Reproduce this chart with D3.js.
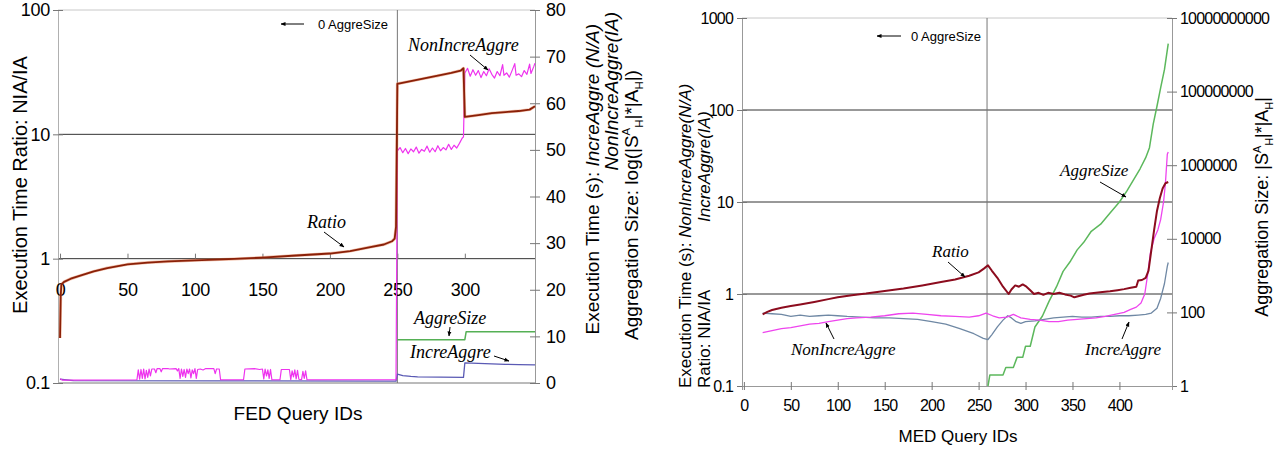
<!DOCTYPE html>
<html>
<head>
<meta charset="utf-8">
<script src="https://cdn.jsdelivr.net/npm/d3@7"></script>
<style>
body{margin:0;background:#fff;}
text{font-family:"Liberation Sans",Arial,sans-serif;fill:#000;}
.lbl{font-family:"Liberation Serif","Times New Roman",serif;font-style:italic;}
</style>
</head>
<body>
<svg id="fig" width="1278" height="450"></svg>
<script>
// ---- FED chart (left) ----
const fedXTicks=[0,50,100,150,200,250,300];
const fedLeftTicks=[0.1,1,10,100];
const fedRightTicks=[0,10,20,30,40,50,60,70,80];
// ratio NIA/IA, left log axis
const fedRatio=[[0,0.23],[0.5,0.5],[1,0.62],[3,0.65],[8,0.69],[15,0.73],[25,0.79],[35,0.84],[50,0.9],[65,0.93],[80,0.95],[100,0.97],[125,0.99],[150,1.02],[175,1.06],[200,1.1],[215,1.15],[230,1.24],[240,1.3],[246,1.38],[248,1.45],[249,1.8],
  [250,25.5],[260,26.8],[270,28.2],[280,29.6],[290,31.2],[297,32.6],[299,34],[300,13.8],[310,14.3],[320,14.8],[330,15.1],[340,15.4],[348,15.8],[352,16.8]];
// execution times (s), right linear axis
const fedNonIncre=[[0,0.9],[2,0.6],[57,0.7],
  [58,2.8],[59,0.8],[60,2.9],[61,1.0],[62,3.0],[63,0.9],[64,2.7],[65,1.2],[66,3.0],[67,1.5],[68,3.0],[70,3.0],[71,2.2],[72,3.1],[74,3.1],[75,2.4],[76,3.1],[80,3.1],[81,3.0],[86,3.1],[87,2.6],[88,3.1],[89,1.0],[90,3.0],[91,1.4],[92,2.9],[93,1.2],[94,3.0],[95,2.0],[96,3.0],[97,1.1],[98,2.8],[99,2.0],[100,3.1],[101,1.0],[102,2.9],[104,3.0],[106,2.8],[108,3.1],[114,3.1],[115,2.0],[116,3.0],[118,3.0],[119,0.7],
  [136,0.7],[137,3.0],[144,3.1],[148,2.9],[150,3.0],[151,0.9],[152,3.0],[153,1.5],[154,2.8],[155,1.0],[156,2.9],[157,0.7],[163,0.7],[164,2.9],[170,2.9],[171,0.7],[172,2.6],[173,1.3],[174,2.8],[175,0.9],[176,2.7],[177,0.8],[179,0.7],[180,2.5],[181,1.0],[182,2.6],[183,0.7],[249,0.7],
  [250,49.8],[252,50.5],[254,49.4],[256,50.3],[258,49.2],[260,50.2],[262,49.6],[264,50.6],[266,49.3],[268,50.1],[270,49.7],[272,50.8],[274,49.5],[276,50.4],[278,49.6],[280,50.9],[282,49.8],[284,50.5],[286,50.0],[288,51.2],[290,50.1],[292,51.0],[294,50.4],[296,51.4],[298,52.5],[299,52.8],
  [300,66.5],[302,67.5],[304,65.8],[306,67.2],[308,66.0],[310,67.0],[312,65.5],[314,66.8],[316,65.9],[318,67.4],[320,66.2],[322,65.4],[324,66.8],[326,65.9],[328,68.3],[329,66],[331,66.5],[333,65.6],[335,67],[337,68.5],[338,66],[340,66.3],[342,65.7],[344,67],[346,66.2],[348,68.4],[349,66.4],[351,67.8],[352,68.6]];
const fedIncre=[[0,0.8],[10,0.5],[120,0.45],[249,0.4],[250,1.9],[254,1.6],[260,1.4],[265,1.3],[299,1.2],[300,4.3],[310,4.2],[320,4.1],[330,4.0],[340,3.95],[352,3.9]];
const fedAggreSize=[[250,9.3],[300,9.3],[301,11],[352,11]];

// ---- MED chart (right) ----
const medXTicks=[0,50,100,150,200,250,300,350,400];
const medLeftTicks=[0.1,1,10,100,1000];
const medRightTicks=[1,100,1e4,1e6,1e8,1e10];
const medRatio=[[20,0.6],[25,0.64],[30,0.67],[40,0.71],[50,0.74],[60,0.77],[75,0.82],[90,0.88],[100,0.92],[115,0.97],[130,1.01],[150,1.08],[170,1.15],[190,1.24],[210,1.35],[225,1.44],[240,1.58],[250,1.72],[256,1.9],[260,2.05],[264,1.8],[270,1.5],[276,1.2],[282,1.0],[285,1.12],[289,1.24],[293,1.2],[297,1.27],[301,1.2],[305,1.1],[309,1.0],[314,1.03],[319,0.98],[324,1.03],[330,1.0],[336,1.03],[342,0.99],[348,0.96],[352,0.92],[357,0.95],[362,0.98],[368,1.01],[375,1.03],[382,1.05],[390,1.07],[398,1.1],[405,1.13],[412,1.17],[418,1.2],[420,1.4],[424,1.42],[428,1.5],[431,1.8],[434,3],[437,5],[440,8],[443,11],[446,14],[449,16],[452,16.5]];
const medNonIncre=[[20,0.38],[30,0.4],[40,0.42],[50,0.43],[60,0.45],[70,0.47],[80,0.48],[90,0.5],[100,0.52],[110,0.54],[120,0.55],[135,0.56],[150,0.58],[165,0.61],[180,0.62],[195,0.6],[210,0.58],[225,0.57],[240,0.56],[250,0.58],[258,0.62],[265,0.58],[272,0.55],[280,0.56],[287,0.6],[295,0.55],[305,0.53],[315,0.52],[325,0.5],[335,0.5],[345,0.52],[355,0.53],[365,0.54],[375,0.55],[385,0.57],[395,0.6],[405,0.63],[412,0.68],[418,0.72],[423,0.8],[427,1.0],[430,1.6],[433,2.8],[437,4],[441,5],[444,6.5],[447,10],[449,16],[451,33],[452,35]];
const medIncre=[[20,0.62],[30,0.61],[40,0.6],[50,0.57],[60,0.59],[70,0.57],[80,0.58],[90,0.59],[100,0.58],[110,0.57],[125,0.56],[140,0.55],[155,0.55],[170,0.54],[185,0.53],[200,0.5],[215,0.47],[230,0.42],[245,0.37],[255,0.33],[260,0.32],[264,0.36],[270,0.44],[276,0.52],[281,0.58],[285,0.55],[290,0.5],[295,0.48],[300,0.5],[310,0.51],[320,0.53],[330,0.55],[340,0.56],[350,0.57],[360,0.56],[370,0.56],[380,0.57],[390,0.57],[400,0.58],[410,0.58],[420,0.59],[428,0.6],[434,0.62],[440,0.7],[444,0.9],[448,1.3],[451,2.0],[452,2.2]];
const medAggreSize=[[260,1],[262,2],[276,2],[279,3.2],[287,3.2],[291,6],[297,6],[300,12],[305,12],[310,40],[318,80],[325,200],[333,500],[340,1300],[348,2500],[355,5000],[362,8000],[370,1.6e4],[380,2.5e4],[390,5e4],[400,1e5],[408,2e5],[415,4e5],[422,8e5],[428,1.6e6],[432,3e6],[436,1.3e7],[440,4e7],[444,1.3e8],[448,4e8],[452,2e9]];

const svg=d3.select("#fig");
svg.append("rect").attr("width",1278).attr("height",450).attr("fill","#fff");
svg.append("defs").append("marker").attr("id","arr")
  .attr("viewBox","0 0 10 10").attr("refX",9).attr("refY",5)
  .attr("markerWidth",5).attr("markerHeight",5).attr("orient","auto")
  .append("path").attr("d","M0,1L10,5L0,9z").attr("fill","#000");

function hline(x1,x2,y,c){svg.append("line").attr("x1",x1).attr("x2",x2).attr("y1",y).attr("y2",y).attr("stroke",c).attr("stroke-width",1);}
function vline(x,y1,y2,c){svg.append("line").attr("x1",x).attr("x2",x).attr("y1",y1).attr("y2",y2).attr("stroke",c).attr("stroke-width",1);}
function arrow(x1,y1,x2,y2){svg.append("line").attr("x1",x1).attr("y1",y1).attr("x2",x2).attr("y2",y2).attr("stroke","#000").attr("stroke-width",1).attr("marker-end","url(#arr)");}
function series(data,x,y,color,w,op){
  svg.append("path").datum(data).attr("fill","none").attr("stroke",color).attr("stroke-width",w)
    .attr("stroke-linejoin","round").attr("opacity",op||1)
    .attr("d",d3.line().x(d=>x(d[0])).y(d=>y(d[1])));
}
function label(x,y,size,t){svg.append("text").attr("class","lbl").attr("x",x).attr("y",y).attr("font-size",size).text(t);}
function vtext(x,y,anchor,size,parts){
  const t=svg.append("text").attr("transform",`translate(${x},${y}) rotate(-90)`)
    .attr("text-anchor",anchor).attr("font-size",size);
  let off=0, first=true;
  parts.forEach(p=>{
    const target=p.sup?-0.42*size:p.sub?0.28*size:0;
    const s=t.append("tspan").attr("dy",(first?0.35*size:0)+target-off).text(p.t);
    first=false; off=target;
    if(p.i) s.attr("font-style","italic");
    if(p.sup||p.sub) s.attr("font-size",size*0.6);
  });
}
function styleAxis(g,size,ls){
  g.attr("font-family",null).attr("font-size",size);
  g.selectAll("text").attr("letter-spacing",ls||0);
  g.select(".domain").attr("stroke","#999");
  g.selectAll(".tick line").attr("stroke","#777");
}

// ===== left chart =====
const fx=d3.scaleLinear().domain([-1.5,352]).range([58,535]);
const fyL=d3.scaleLog().domain([0.1,100]).range([383,10]);
const fyR=d3.scaleLinear().domain([0,80]).range([383,10]);

hline(58,535,fyL(100),"#c8c8c8");
hline(58,535,fyL(10),"#333");
hline(58,535,fyL(1),"#333");
hline(58,535,fyL(0.1),"#777");
vline(fx(250),fyL(100),fyL(0.1),"#777");

const fAxL=svg.append("g").attr("transform","translate(58,0)")
  .call(d3.axisLeft(fyL).tickValues(fedLeftTicks).tickFormat(d=>String(d)).tickSizeOuter(0).tickSize(5).tickPadding(3));
styleAxis(fAxL,18,-0.3);
fAxL.select(".domain").attr("stroke","#b0b0b0");
fAxL.selectAll(".tick line").attr("x1",5);

const fAxR=svg.append("g").attr("transform","translate(535,0)")
  .call(d3.axisRight(fyR).tickValues(fedRightTicks).tickSizeOuter(0).tickSize(5).tickPadding(6));
styleAxis(fAxR,18,-0.3);
fAxR.selectAll(".tick line").attr("x1",-5);

const fAxX=svg.append("g").attr("transform",`translate(0,${fyL(1)})`)
  .call(d3.axisBottom(fx).tickValues(fedXTicks).tickSizeOuter(0).tickSize(-5).tickPadding(25));
styleAxis(fAxX,18,-0.3);
fAxX.select(".domain").remove();

series(fedIncre,fx,fyR,"#5a5ab4",1.3);
series(fedAggreSize,fx,fyR,"#55b055",1.5);
series(fedNonIncre,fx,fyR,"#ee33ee",1.2);
series(fedRatio,fx,fyL,"#e07040",3,0.45);
series(fedRatio,fx,fyL,"#8a2008",1.8);

svg.append("text").attr("x",298).attr("y",420).attr("text-anchor","middle").attr("font-size",19).text("FED Query IDs");
vtext(20,185,"middle",20,[{t:"Execution Time Ratio: NIA/IA"}]);
vtext(592,24,"end",19,[{t:"Execution Time (s): "},{t:"IncreAggre (N/A)",i:true}]);
vtext(611,12,"end",19,[{t:"NonIncreAggre(IA)",i:true}]);
vtext(631,205,"middle",19,[{t:"Aggregation Size: log(|S"},{t:"A",sup:true},{t:"H",sub:true},{t:"|*|A"},{t:"H",sub:true},{t:"|)"}]);

arrow(304,24,281,24);
svg.append("text").attr("x",318).attr("y",29).attr("font-size",13).text("0 AggreSize");
label(408,51,18,"NonIncreAggre"); arrow(470,55,488,70);
label(307,228,18,"Ratio"); arrow(324,232,344,247);
label(414,324,18,"AggreSize"); arrow(450,327,449,336);
label(410,358,18,"IncreAggre"); arrow(494,356,509,361);

// ===== right chart =====
const mx=d3.scaleLinear().domain([-2,456]).range([742,1172]);
const myL=d3.scaleLog().domain([0.1,1000]).range([386,18]);
const myR=d3.scaleLog().domain([1,1e10]).range([386,18]);

hline(742,1172,myL(1000),"#c8c8c8");
[100,10,1].forEach(v=>hline(742,1172,myL(v),"#333"));
vline(mx(259),myL(1000),myL(0.1),"#777");

const mAxL=svg.append("g").attr("transform","translate(742,0)")
  .call(d3.axisLeft(myL).tickValues(medLeftTicks).tickFormat(d=>String(d)).tickSizeOuter(0).tickSize(5).tickPadding(4));
styleAxis(mAxL,16,-0.8);
mAxL.selectAll(".tick line").attr("x1",5);

const mAxR=svg.append("g").attr("transform","translate(1172,0)")
  .call(d3.axisRight(myR).tickValues(medRightTicks).tickFormat(d=>String(d)).tickSizeOuter(0).tickSize(5).tickPadding(3));
styleAxis(mAxR,16,-0.8);
mAxR.selectAll(".tick line").attr("x1",-5);

const mAxX=svg.append("g").attr("transform","translate(0,386)")
  .call(d3.axisBottom(mx).tickValues(medXTicks).tickSizeOuter(0).tickSize(4).tickPadding(10));
styleAxis(mAxX,16,-0.8);
mAxX.selectAll(".tick line").attr("y1",-4);

series(medAggreSize,mx,myR,"#5cb85c",1.5);
series(medIncre,mx,myL,"#6f88a4",1.3);
series(medNonIncre,mx,myL,"#ee44ee",1.3);
series(medRatio,mx,myL,"#8c0c1e",2);

svg.append("text").attr("x",958).attr("y",442).attr("text-anchor","middle").attr("font-size",17).text("MED Query IDs");
vtext(685,388,"start",17,[{t:"Execution Time (s): "},{t:"NonIncreAggre(N/A)",i:true}]);
vtext(704,388,"start",17,[{t:"Ratio: NIA/IA"}]);
vtext(704,222,"start",17,[{t:"IncreAggre(IA)",i:true}]);
vtext(1262,207,"middle",18,[{t:"Aggregation Size: |S"},{t:"A",sup:true},{t:"H",sub:true},{t:"|*|A"},{t:"H",sub:true},{t:"|"}]);

arrow(901,36,877,36);
svg.append("text").attr("x",911).attr("y",41).attr("font-size",13).text("0 AggreSize");
label(932,257,17,"Ratio"); arrow(948,262,965,277);
label(791,355,17,"NonIncreAggre"); arrow(834,339,826,323);
label(1085,355,17,"IncreAggre"); arrow(1122,339,1129,322);
label(1060,176,17,"AggreSize"); arrow(1100,182,1126,197);
</script>
</body>
</html>
